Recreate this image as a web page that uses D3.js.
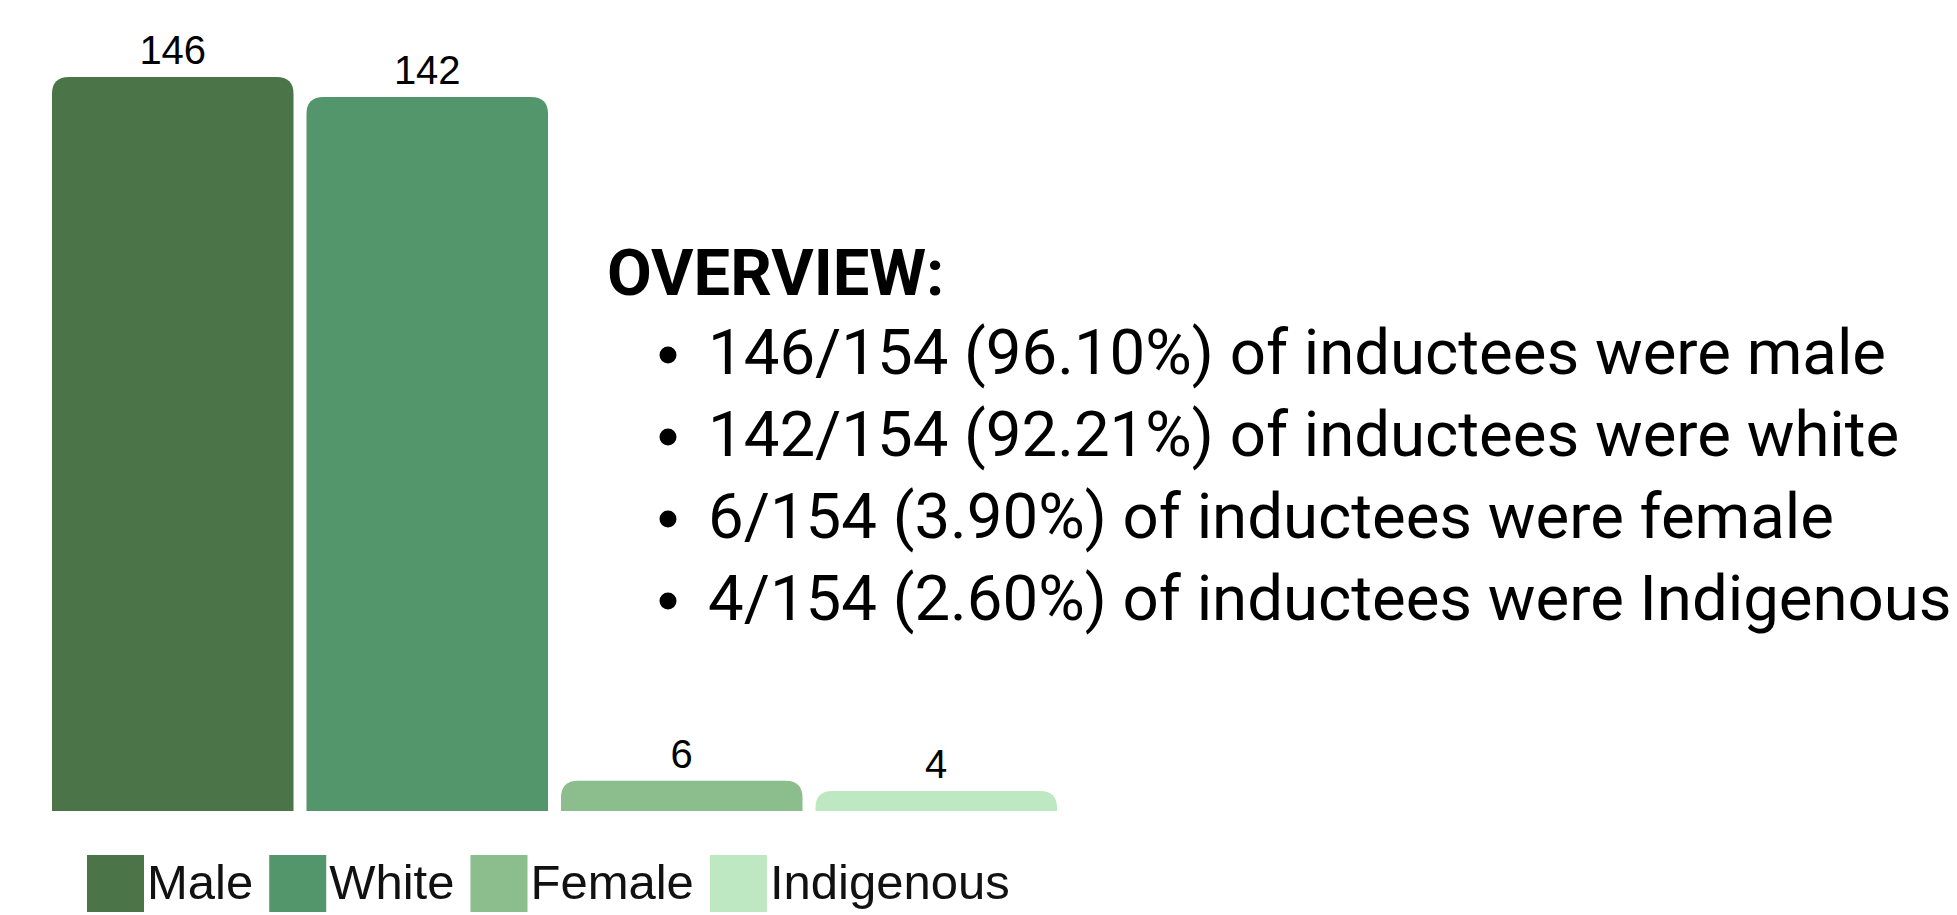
<!DOCTYPE html>
<html>
<head>
  <meta charset="utf-8">
  <script src="https://d3js.org/d3.v7.min.js"></script>
  <style>
  body{
    margin: 0;
    background: #ffffff;
  }
  .label{
    font-family: "Liberation Sans", Arial, sans-serif;
    font-size: 40px;
    fill: #000;
  }
  .legend text{
    font-family: "Liberation Sans", Arial, sans-serif;
    font-size: 49px;
    fill: #111;
  }
  .note{
    font-family: Roboto, "Open Sans", sans-serif;
    fill: #000;
  }
  </style>
</head>
<body>
  <svg width="1957" height="915"></svg>
<script>
// data
var categories = ["Male", "White", "Female", "Indigenous"];
var counts = [146, 142, 6, 4];
var colours = ["#4c7449", "#53966b", "#8cbd8c", "#bde8c2"];
var total = 154;
var heading = "OVERVIEW:";
var notes = [
  "146/154 (96.10%) of inductees were male",
  "142/154 (92.21%) of inductees were white",
  "6/154 (3.90%) of inductees were female",
  "4/154 (2.60%) of inductees were Indigenous"
];

var svg = d3.select("svg");

var x = d3.scaleBand().domain(categories).range([52, 1057]).paddingInner(0.051).paddingOuter(0),
    y = d3.scaleLinear().domain([0, 146]).range([811, 77]);

var colour = d3.scaleOrdinal().domain(categories).range(colours);

var rows = categories.map(function(c, i){ return {name: c, value: counts[i]}; });

// bars with rounded top corners only
function topRounded(x0, y0, w, h, r){
  r = Math.min(r, h, w / 2);
  return "M" + x0 + "," + (y0 + h) +
    "V" + (y0 + r) +
    "Q" + x0 + "," + y0 + " " + (x0 + r) + "," + y0 +
    "H" + (x0 + w - r) +
    "Q" + (x0 + w) + "," + y0 + " " + (x0 + w) + "," + (y0 + r) +
    "V" + (y0 + h) + "Z";
}

svg.append("g").selectAll("path")
  .data(rows)
  .enter().append("path")
  .attr("fill", function(d){ return colour(d.name); })
  .attr("d", function(d){
    return topRounded(x(d.name), y(d.value), x.bandwidth(), y(0) - y(d.value), 17);
  });

svg.append("g").selectAll("text")
  .data(rows)
  .enter().append("text")
  .attr("class", "label")
  .attr("text-anchor", "middle")
  .attr("x", function(d){ return x(d.name) + x.bandwidth() / 2; })
  .attr("y", function(d){ return y(d.value) - 13; })
  .text(function(d){ return d.value; });

// legend
var legend = svg.append("g").attr("class", "legend");
var lx = 87;
rows.forEach(function(d){
  legend.append("rect")
    .attr("x", lx).attr("y", 855)
    .attr("width", 57).attr("height", 57)
    .attr("fill", colour(d.name));
  var t = legend.append("text")
    .attr("x", lx + 60).attr("y", 899)
    .text(d.name);
  lx += 60 + t.node().getComputedTextLength() + 16;
});

// overview text
svg.append("text")
  .attr("class", "note")
  .attr("x", 607).attr("y", 295)
  .attr("font-size", 65)
  .attr("font-weight", 700)
  .text(heading);

var nt = svg.append("g");
notes.forEach(function(s, i){
  var by = 374 + i * 82;
  nt.append("circle")
    .attr("cx", 668).attr("cy", by - 19)
    .attr("r", 8.5)
    .attr("fill", "#000");
  nt.append("text")
    .attr("class", "note")
    .attr("x", 708).attr("y", by)
    .attr("font-size", 63.5)
    .text(s);
});
</script>
</body>
</html>
